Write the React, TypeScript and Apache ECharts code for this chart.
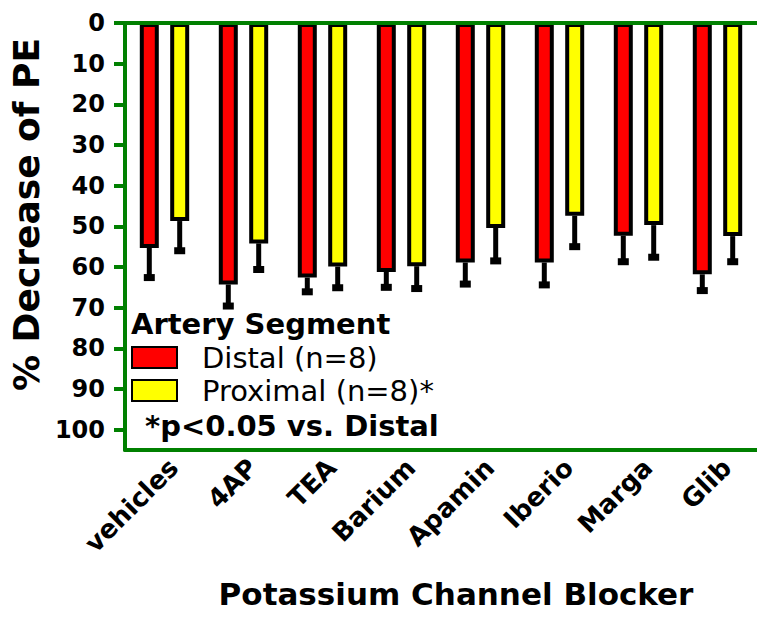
import React, { useEffect, useRef } from "react";
import * as echarts from "echarts";

const categories = ["vehicles", "4AP", "TEA", "Barium", "Apamin", "Iberio", "Marga", "Glib"];
const distalName = "Distal (n=8)";
const proximalName = "Proximal (n=8)*";
const distal = [55.3, 64.3, 62.6, 61.2, 58.9, 58.9, 52.3, 61.8];
const distalSem = [7.3, 5.3, 3.5, 3.8, 5.3, 5.5, 6.4, 4.0];
const proximal = [48.7, 54.2, 59.9, 59.8, 50.4, 47.4, 49.7, 52.4];
const proximalSem = [7.3, 6.4, 5.2, 5.5, 8.1, 7.6, 7.9, 6.3];
const yTicks = [0, 10, 20, 30, 40, 50, 60, 70, 80, 90, 100];
const legendTitle = "Artery Segment";
const footnote = "*p<0.05 vs. Distal";
const xTitle = "Potassium Channel Blocker";
const yTitle = "% Decrease of PE";

const GREEN = "#008000";
const RED = "#ff0000";
const YELLOW = "#ffff00";
const FONT = "DejaVu Sans";
const BAR_W = 19;
const BAR_GAP = 0.6;
const OFFSET = (BAR_W * (1 + BAR_GAP)) / 2;

function errorSeries(values: number[], sems: number[], dir: number) {
  return {
    type: "custom",
    xAxisIndex: 0,
    yAxisIndex: 0,
    z: 3,
    silent: true,
    data: values.map((v, i) => [i, v, sems[i]]),
    encode: { x: 0, y: 1 },
    renderItem: (params: any, api: any) => {
      const i = api.value(0);
      const v = api.value(1);
      const e = api.value(2);
      const p0 = api.coord([i, v]);
      const p1 = api.coord([i, v + e]);
      const x = p0[0] + dir * OFFSET;
      return {
        type: "group",
        children: [
          {
            type: "line",
            shape: { x1: x, y1: p0[1], x2: x, y2: p1[1] },
            style: { stroke: "#000", lineWidth: 5 },
          },
          {
            type: "rect",
            shape: { x: x - 5.5, y: p1[1] - 3.5, width: 11, height: 7 },
            style: { fill: "#000" },
          },
        ],
      };
    },
  };
}

export default function App() {
  const ref = useRef<HTMLDivElement>(null);
  useEffect(() => {
    if (!ref.current) return;
    const chart = echarts.init(ref.current, undefined, { renderer: "svg" });
    chart.setOption({
      animation: false,
      textStyle: { fontFamily: FONT },
      grid: { left: 123, top: 23, width: 642, height: 427, containLabel: false },
      legend: {
        orient: "vertical",
        left: 131,
        top: 343,
        padding: 0,
        itemWidth: 45,
        itemHeight: 21,
        itemGap: 4,
        icon: "rect",
        selectedMode: false,
        data: [distalName, proximalName],
        textStyle: {
          fontFamily: FONT,
          fontSize: 29,
          color: "#000",
          lineHeight: 29,
          padding: [0, 0, 0, 20],
        },
      },
      graphic: [
        {
          type: "text",
          left: 131,
          top: 309,
          style: {
            text: legendTitle,
            font: `bold 29px "${FONT}"`,
            fill: "#000",
          },
        },
        {
          type: "text",
          left: 145,
          top: 411,
          style: {
            text: footnote,
            font: `bold 29px "${FONT}"`,
            fill: "#000",
          },
        },
      ],
      xAxis: [
        {
          type: "category",
          data: categories,
          position: "bottom",
          boundaryGap: true,
          axisLine: { onZero: false, lineStyle: { color: GREEN, width: 4 } },
          axisTick: { alignWithLabel: true, length: 12, lineStyle: { color: GREEN, width: 4 } },
          axisLabel: {
            rotate: 45,
            align: "right",
            verticalAlign: "top",
            margin: 4,
            interval: 0,
            color: "#000",
            fontFamily: FONT,
            fontWeight: "bold",
            fontSize: 26,
          },
          name: xTitle,
          nameLocation: "middle",
          nameGap: 128,
          nameTextStyle: {
            fontFamily: FONT,
            fontWeight: "bold",
            fontSize: 31,
            color: "#000",
            padding: [0, 0, 0, 30],
          },
          z: 5,
        },
        {
          type: "category",
          data: categories,
          position: "top",
          axisLine: { onZero: false, lineStyle: { color: GREEN, width: 4 } },
          axisTick: { show: false },
          axisLabel: { show: false },
          z: 5,
        },
      ],
      yAxis: {
        type: "value",
        inverse: true,
        min: 0,
        max: 105,
        interval: 10,
        splitLine: { show: false },
        axisLine: { show: true, lineStyle: { color: GREEN, width: 4 } },
        axisTick: { show: true, length: 11, customValues: yTicks, lineStyle: { color: GREEN, width: 4 } },
        axisLabel: {
          customValues: yTicks,
          margin: 20,
          color: "#000",
          fontFamily: FONT,
          fontWeight: "bold",
          fontSize: 24,
          formatter: (v: number) => (v > 100 ? "" : String(v)),
        },
        name: yTitle,
        nameLocation: "middle",
        nameRotate: 90,
        nameGap: 76,
        nameTextStyle: {
          fontFamily: FONT,
          fontWeight: "bold",
          fontSize: 36,
          color: "#000",
          padding: [0, 0, 0, 44],
        },
        z: 5,
      },
      series: [
        {
          name: distalName,
          type: "bar",
          data: distal,
          barWidth: BAR_W,
          barGap: `${BAR_GAP * 100}%`,
          itemStyle: { color: RED, borderColor: "#000", borderWidth: 4 },
        },
        {
          name: proximalName,
          type: "bar",
          data: proximal,
          barWidth: BAR_W,
          barGap: `${BAR_GAP * 100}%`,
          itemStyle: { color: YELLOW, borderColor: "#000", borderWidth: 4 },
        },
        errorSeries(distal, distalSem, -1),
        errorSeries(proximal, proximalSem, 1),
      ],
    });
    return () => chart.dispose();
  }, []);
  return (
    <div
      ref={ref}
      style={{ position: "fixed", left: 0, top: 0, width: 757, height: 625, background: "#fff" }}
    />
  );
}
